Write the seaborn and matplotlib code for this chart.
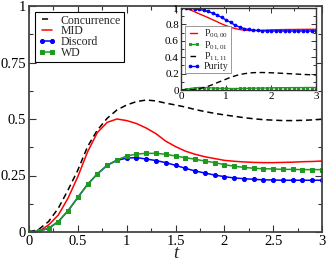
import numpy as np
import pandas as pd
import matplotlib.pyplot as plt
import matplotlib.ticker as mticker
import seaborn as sns

# tiempo (paso 0.1)
t = [round(0.1 * i, 1) for i in range(31)]

# panel principal
concurrence = [0, 0.012, 0.046, 0.105, 0.186, 0.274, 0.378, 0.451, 0.503, 0.540, 0.562,
               0.577, 0.584, 0.580, 0.570, 0.562, 0.553, 0.542, 0.533, 0.525, 0.518,
               0.512, 0.506, 0.501, 0.497, 0.495, 0.493, 0.493, 0.494, 0.496, 0.499]
mid = [0, 0.003, 0.031, 0.075, 0.150, 0.245, 0.355, 0.440, 0.485, 0.500, 0.493,
       0.480, 0.460, 0.435, 0.402, 0.378, 0.358, 0.344, 0.333, 0.325, 0.317,
       0.313, 0.310, 0.308, 0.307, 0.307, 0.308, 0.309, 0.311, 0.312, 0.314]
discord = [0, 0.004, 0.016, 0.046, 0.094, 0.153, 0.211, 0.257, 0.295, 0.317, 0.327,
           0.329, 0.323, 0.316, 0.307, 0.295, 0.282, 0.270, 0.261, 0.252, 0.245,
           0.239, 0.236, 0.233, 0.231, 0.230, 0.229, 0.229, 0.229, 0.229, 0.229]
wd = [0, 0.004, 0.016, 0.046, 0.094, 0.153, 0.211, 0.257, 0.295, 0.319, 0.336,
      0.345, 0.348, 0.348, 0.344, 0.336, 0.329, 0.322, 0.314, 0.307, 0.298,
      0.291, 0.286, 0.282, 0.280, 0.279, 0.277, 0.277, 0.276, 0.276, 0.276]

# inset
p0000 = [1.0, 0.995, 0.978, 0.955, 0.930, 0.907, 0.883, 0.858, 0.833, 0.807, 0.785,
         0.765, 0.750, 0.738, 0.730, 0.726, 0.725, 0.726, 0.728, 0.731, 0.733,
         0.735, 0.736, 0.737, 0.738, 0.738, 0.739, 0.739, 0.740, 0.740, 0.740]
p0101 = [0, 0.008, 0.018, 0.026, 0.030, 0.030, 0.028, 0.025, 0.022, 0.020, 0.019,
         0.018, 0.018, 0.019, 0.020, 0.021, 0.022, 0.023, 0.024, 0.025, 0.026,
         0.027, 0.027, 0.028, 0.028, 0.029, 0.029, 0.029, 0.030, 0.030, 0.030]
p1111 = [0, 0.0, 0.002, 0.006, 0.015, 0.028, 0.045, 0.065, 0.088, 0.110, 0.132,
         0.155, 0.172, 0.188, 0.198, 0.206, 0.211, 0.213, 0.213, 0.212, 0.210,
         0.208, 0.205, 0.202, 0.199, 0.196, 0.193, 0.190, 0.188, 0.185, 0.183]
purity = [1.0, 1.0, 0.998, 0.990, 0.982, 0.973, 0.958, 0.938, 0.915, 0.885, 0.855,
          0.825, 0.790, 0.768, 0.750, 0.738, 0.730, 0.726, 0.722, 0.720, 0.720,
          0.720, 0.720, 0.720, 0.720, 0.720, 0.720, 0.720, 0.720, 0.720, 0.720]

xticks_main = [0, 0.5, 1, 1.5, 2, 2.5, 3]
xlabels_main = ['0', '0.5', '1', '1.5', '2', '2.5', '3']
yticks_main = [0, 0.25, 0.5, 0.75, 1]
ylabels_main = ['0', '0.25', '0.5', '0.75', '1']
xticks_ins = [0, 1, 2, 3]
yticks_ins = [0, 0.2, 0.4, 0.6, 0.8, 1]
ylabels_ins = ['0', '0.2', '0.4', '0.6', '0.8', '1']

df = pd.DataFrame({'t': t, 'conc': concurrence, 'mid': mid, 'discord': discord, 'wd': wd,
                   'p00': p0000, 'p01': p0101, 'p11': p1111, 'pur': purity})

sns.set_style('ticks')
plt.rcParams['font.family'] = ['Liberation Serif', 'DejaVu Serif']
plt.rcParams['mathtext.fontset'] = 'custom'
plt.rcParams['mathtext.rm'] = 'Liberation Serif'
plt.rcParams['mathtext.it'] = 'Liberation Serif:italic'

rojo = '#ff0000'
azul = '#0000ff'
verde = '#1f9a1f'
negro = '#000000'

fig = plt.figure(figsize=(3.27, 2.62), dpi=100)
ax = fig.add_axes([29/327, 1 - 232/262, 293/327, 226/262])

sns.lineplot(data=df, x='t', y='conc', ax=ax, color=negro, lw=1.1, ls=(0, (4, 2.5)), label='Concurrence')
sns.lineplot(data=df, x='t', y='mid', ax=ax, color=rojo, lw=1.1, label='MID')
sns.lineplot(data=df, x='t', y='discord', ax=ax, color=azul, lw=1.1, marker='o', ms=2.9,
             mec=azul, label='Discord')
sns.lineplot(data=df, x='t', y='wd', ax=ax, color=verde, lw=1.1, marker='s', ms=2.7,
             mec=verde, label='WD')

ax.set_xlim(0, 3)
ax.set_ylim(0, 1)
ax.set_xticks(xticks_main)
ax.set_xticklabels(xlabels_main)
ax.set_yticks(yticks_main)
ax.set_yticklabels(ylabels_main)
ax.xaxis.set_minor_locator(mticker.MultipleLocator(0.25))
ax.yaxis.set_minor_locator(mticker.MultipleLocator(0.125))
ax.tick_params(which='both', direction='in', top=True, right=True, labelsize=10.5, pad=2,
               color='#333333', width=0.8, labelcolor='black')
ax.tick_params(which='major', length=5)
ax.tick_params(which='minor', length=3)
ax.set_xlabel('t', fontsize=13.5, fontstyle='italic', labelpad=-2)
ax.set_ylabel('')
for s in ax.spines.values():
    s.set_color('#444444')
    s.set_linewidth(1.3)

leg = ax.legend(loc='upper left', bbox_to_anchor=(0.021, 0.975), borderaxespad=0,
                fontsize=8.5, handlelength=1.5, handletextpad=0.4, labelspacing=-0.1,
                borderpad=0.25, numpoints=2, fancybox=False, framealpha=1)
leg.get_frame().set_edgecolor('black')
leg.get_frame().set_linewidth(0.8)

# inset
axi = fig.add_axes([181/327, 1 - 90/262, 135/327, 82/262])
axi.set_zorder(5)
sns.lineplot(data=df, x='t', y='p00', ax=axi, color=rojo, lw=1.0, label='P$_{00,00}$')
sns.lineplot(data=df, x='t', y='p01', ax=axi, color=verde, lw=1.0, marker='s', ms=1.9,
             mec=verde, label='P$_{01,01}$')
sns.lineplot(data=df, x='t', y='p11', ax=axi, color=negro, lw=1.0, ls=(0, (4, 2.5)), label='P$_{11,11}$')
sns.lineplot(data=df, x='t', y='pur', ax=axi, color=azul, lw=1.0, marker='o', ms=1.9,
             mec=azul, label='Purity')
axi.set_xlim(0, 3)
axi.set_ylim(0, 1)
axi.set_xticks(xticks_ins)
axi.set_yticks(yticks_ins)
axi.set_yticklabels(ylabels_ins)
axi.xaxis.set_minor_locator(mticker.MultipleLocator(0.5))
axi.yaxis.set_minor_locator(mticker.MultipleLocator(0.1))
axi.tick_params(which='both', direction='in', top=True, right=True, labelsize=8, pad=1.5,
                color='#333333', width=0.7, labelcolor='black')
axi.tick_params(which='major', length=3.5)
axi.tick_params(which='minor', length=2)
axi.set_xlabel('')
axi.set_ylabel('')
for s in axi.spines.values():
    s.set_color('#333333')
    s.set_linewidth(1.0)

legi = axi.legend(loc='upper left', bbox_to_anchor=(0.03, 0.78), borderaxespad=0,
                  fontsize=7.2, handlelength=1.3, handletextpad=0.4, labelspacing=-0.1,
                  borderpad=0.2, numpoints=2, fancybox=False, framealpha=1)
legi.get_frame().set_edgecolor('#888888')
legi.get_frame().set_linewidth(0.6)

fig.savefig('out.png', dpi=100)
